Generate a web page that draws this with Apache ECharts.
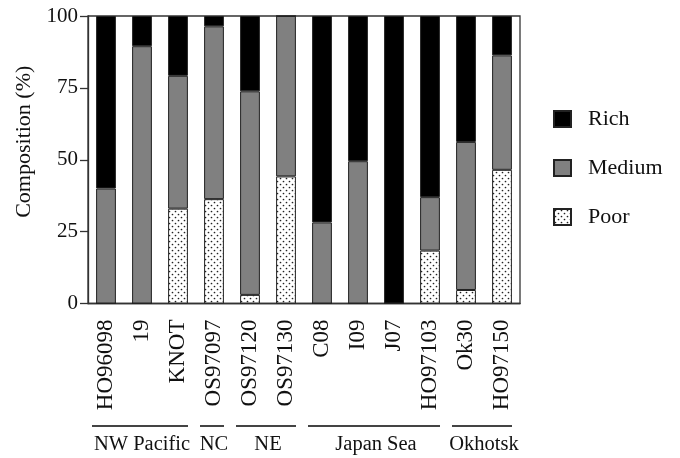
<!DOCTYPE html>
<html>
<head>
<meta charset="utf-8">
<script src="https://cdn.jsdelivr.net/npm/echarts@6/dist/echarts.min.js"></script>
<style>html,body{margin:0;padding:0;background:#fff}#c{width:680px;height:458px}</style>
</head>
<body>
<div id="c"></div>
<script>
var categories = ['HO96098','19','KNOT','OS97097','OS97120','OS97130','C08','I09','J07','HO97103','Ok30','HO97150'];
var poor   = [0, 0, 33.0, 36.3, 3.0, 44.2, 0, 0, 0, 18.4, 4.7, 46.5];
var medium = [40.0, 89.5, 46.2, 60.1, 70.8, 55.8, 28.2, 49.5, 0, 18.6, 51.5, 39.8];
var rich   = [60.0, 10.5, 20.8, 3.6, 26.2, 0, 71.8, 50.5, 100, 63.0, 43.8, 13.7];
var yTicks = [0, 25, 50, 75, 100];
var groupNames = ['NW Pacific','NC','NE','Japan Sea','Okhotsk'];
var groupStart = [0, 3, 4, 6, 10];
var groupEnd   = [2, 3, 5, 9, 11];

var FONT = '"Liberation Serif", "Times New Roman", serif';

var pc = document.createElement('canvas');
pc.width = 6; pc.height = 6;
var ctx = pc.getContext('2d');
ctx.fillStyle = '#ffffff'; ctx.fillRect(0,0,6,6);
ctx.fillStyle = '#222222';
ctx.beginPath(); ctx.arc(1.5,1.5,0.85,0,Math.PI*2); ctx.fill();
ctx.beginPath(); ctx.arc(4.5,4.5,0.85,0,Math.PI*2); ctx.fill();
var poorFill = {image: pc, repeat: 'repeat'};

var chart = echarts.init(document.getElementById('c'), null, {renderer: 'canvas'});
var border = {borderColor: '#222', borderWidth: 1};
chart.setOption({
  animation: false,
  backgroundColor: '#fff',
  textStyle: {fontFamily: FONT},
  grid: {left: 88, right: 160, top: 16, bottom: 154.5, show: true, borderColor: '#333', borderWidth: 1.3, backgroundColor: 'transparent'},
  legend: {
    orient: 'vertical', left: 548, top: 103, itemWidth: 17, itemHeight: 16, itemGap: 27,
    icon: 'rect',
    data: ['Rich','Medium','Poor'],
    textStyle: {fontFamily: FONT, fontSize: 22, color: '#111', padding: [0,0,0,12]}
  },
  xAxis: {
    type: 'category', data: categories,
    axisLine: {lineStyle: {color: '#333', width: 1.3}},
    axisTick: {alignWithLabel: true, length: 9, lineStyle: {color: '#333', width: 1.3}},
    axisLabel: {rotate: 90, margin: 16, fontFamily: FONT, fontSize: 23, color: '#111', interval: 0}
  },
  yAxis: {
    type: 'value', min: yTicks[0], max: yTicks[yTicks.length-1], interval: 25,
    name: 'Composition (%)', nameLocation: 'middle', nameGap: 51,
    nameTextStyle: {fontFamily: FONT, fontSize: 22, color: '#111', padding: [0,0,0,36]},
    splitLine: {show: false},
    axisLine: {show: true, lineStyle: {color: '#333', width: 1.3}},
    axisTick: {show: true, length: 8, lineStyle: {color: '#333', width: 1.3}},
    axisLabel: {margin: 10, fontFamily: FONT, fontSize: 21, color: '#111'}
  },
  series: [
    {name: 'Poor', type: 'bar', stack: 's', data: poor, barWidth: '55%', itemStyle: Object.assign({color: poorFill}, border)},
    {name: 'Medium', type: 'bar', stack: 's', data: medium, barWidth: '55%', itemStyle: Object.assign({color: '#808080'}, border)},
    {name: 'Rich', type: 'bar', stack: 's', data: rich, barWidth: '55%', itemStyle: Object.assign({color: '#000000'}, border)}
  ]
});

var step = chart.convertToPixel({xAxisIndex: 0}, 1) - chart.convertToPixel({xAxisIndex: 0}, 0);
var gfx = [];
var lineY = 426, textY = 445;
for (var i = 0; i < groupNames.length; i++) {
  var x0 = chart.convertToPixel({xAxisIndex: 0}, groupStart[i]) - step/2 + 4;
  var x1 = chart.convertToPixel({xAxisIndex: 0}, groupEnd[i]) + step/2 - 8;
  gfx.push({type: 'line', shape: {x1: x0, y1: lineY, x2: x1, y2: lineY}, style: {stroke: '#444', lineWidth: 2}});
  gfx.push({type: 'text', x: (x0 + x1) / 2 + 2, y: textY,
    style: {text: groupNames[i], font: '20.5px ' + FONT, fill: '#111', textAlign: 'center', textVerticalAlign: 'middle'}});
}
chart.setOption({graphic: gfx});
</script>
</body>
</html>
